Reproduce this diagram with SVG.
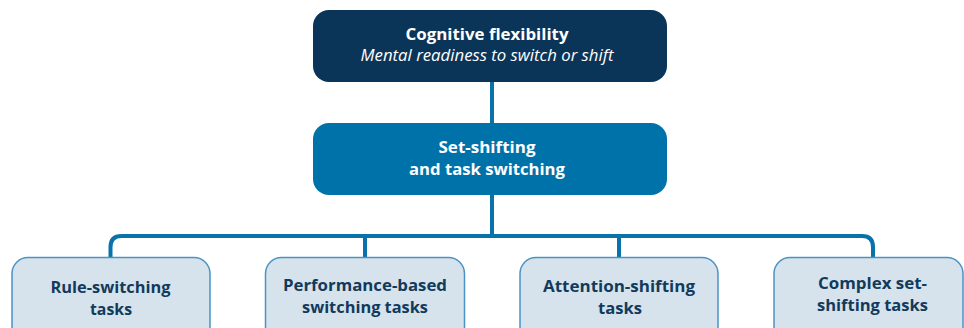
<svg xmlns="http://www.w3.org/2000/svg" width="964" height="328" viewBox="0 0 964 328">
  <style>
    .wire { fill: none; stroke: #0a72aa; stroke-width: 4; }
    .top { fill: #0b3558; }
    .mid { fill: #0072aa; }
    .leaf { fill: #d6e3ec; stroke: #4a93c4; stroke-width: 1.5; }
    text { font-family: "Open Sans", Lato, "Liberation Sans", sans-serif; text-anchor: middle; }
    .hw { fill: #ffffff; font-weight: 700; font-size: 16.5px; }
    .iw { fill: #ffffff; font-style: italic; font-size: 16.5px; }
    .ld { fill: #123a5c; font-weight: 700; font-size: 16px; }
  </style>

  <!-- connectors -->
  <g id="connectors">
    <path class="wire" d="M492,81 V123"/>
    <path class="wire" d="M492,195 V236"/>
    <path class="wire" d="M110.5,258 V247 Q110.5,236 121.5,236 H862 Q873,236 873,247 V258"/>
    <path class="wire" d="M365,236 V258"/>
    <path class="wire" d="M619,236 V258"/>
  </g>

  <g id="cognitive-flexibility">
    <rect class="top" x="313" y="10" width="354" height="72" rx="16"/>
    <text class="hw" x="487" y="40" textLength="163" lengthAdjust="spacingAndGlyphs">Cognitive flexibility</text>
    <text class="iw" x="487" y="61" textLength="253" lengthAdjust="spacingAndGlyphs">Mental readiness to switch or shift</text>
  </g>

  <g id="set-shifting">
    <rect class="mid" x="313" y="123" width="354" height="72" rx="16"/>
    <text class="hw" x="487" y="153" textLength="97" lengthAdjust="spacingAndGlyphs">Set-shifting</text>
    <text class="hw" x="487" y="175" textLength="156" lengthAdjust="spacingAndGlyphs">and task switching</text>
  </g>

  <g id="rule-switching">
    <rect class="leaf" x="12" y="257.5" width="198" height="90" rx="16"/>
    <text class="ld" x="110.5" y="293" textLength="120" lengthAdjust="spacingAndGlyphs">Rule-switching</text>
    <text class="ld" x="111" y="315" textLength="42" lengthAdjust="spacingAndGlyphs">tasks</text>
  </g>

  <g id="performance-based">
    <rect class="leaf" x="265.5" y="257.5" width="199" height="90" rx="16"/>
    <text class="ld" x="365" y="291" textLength="164" lengthAdjust="spacingAndGlyphs">Performance-based</text>
    <text class="ld" x="365" y="313" textLength="126" lengthAdjust="spacingAndGlyphs">switching tasks</text>
  </g>

  <g id="attention-shifting">
    <rect class="leaf" x="520" y="257.5" width="198" height="90" rx="16"/>
    <text class="ld" x="619" y="292" textLength="152" lengthAdjust="spacingAndGlyphs">Attention-shifting</text>
    <text class="ld" x="620" y="314" textLength="44" lengthAdjust="spacingAndGlyphs">tasks</text>
  </g>

  <g id="complex-set-shifting">
    <rect class="leaf" x="774" y="257.5" width="189" height="90" rx="16"/>
    <text class="ld" x="872.5" y="289" textLength="109" lengthAdjust="spacingAndGlyphs">Complex set-</text>
    <text class="ld" x="872.5" y="311" textLength="111" lengthAdjust="spacingAndGlyphs">shifting tasks</text>
  </g>
</svg>
